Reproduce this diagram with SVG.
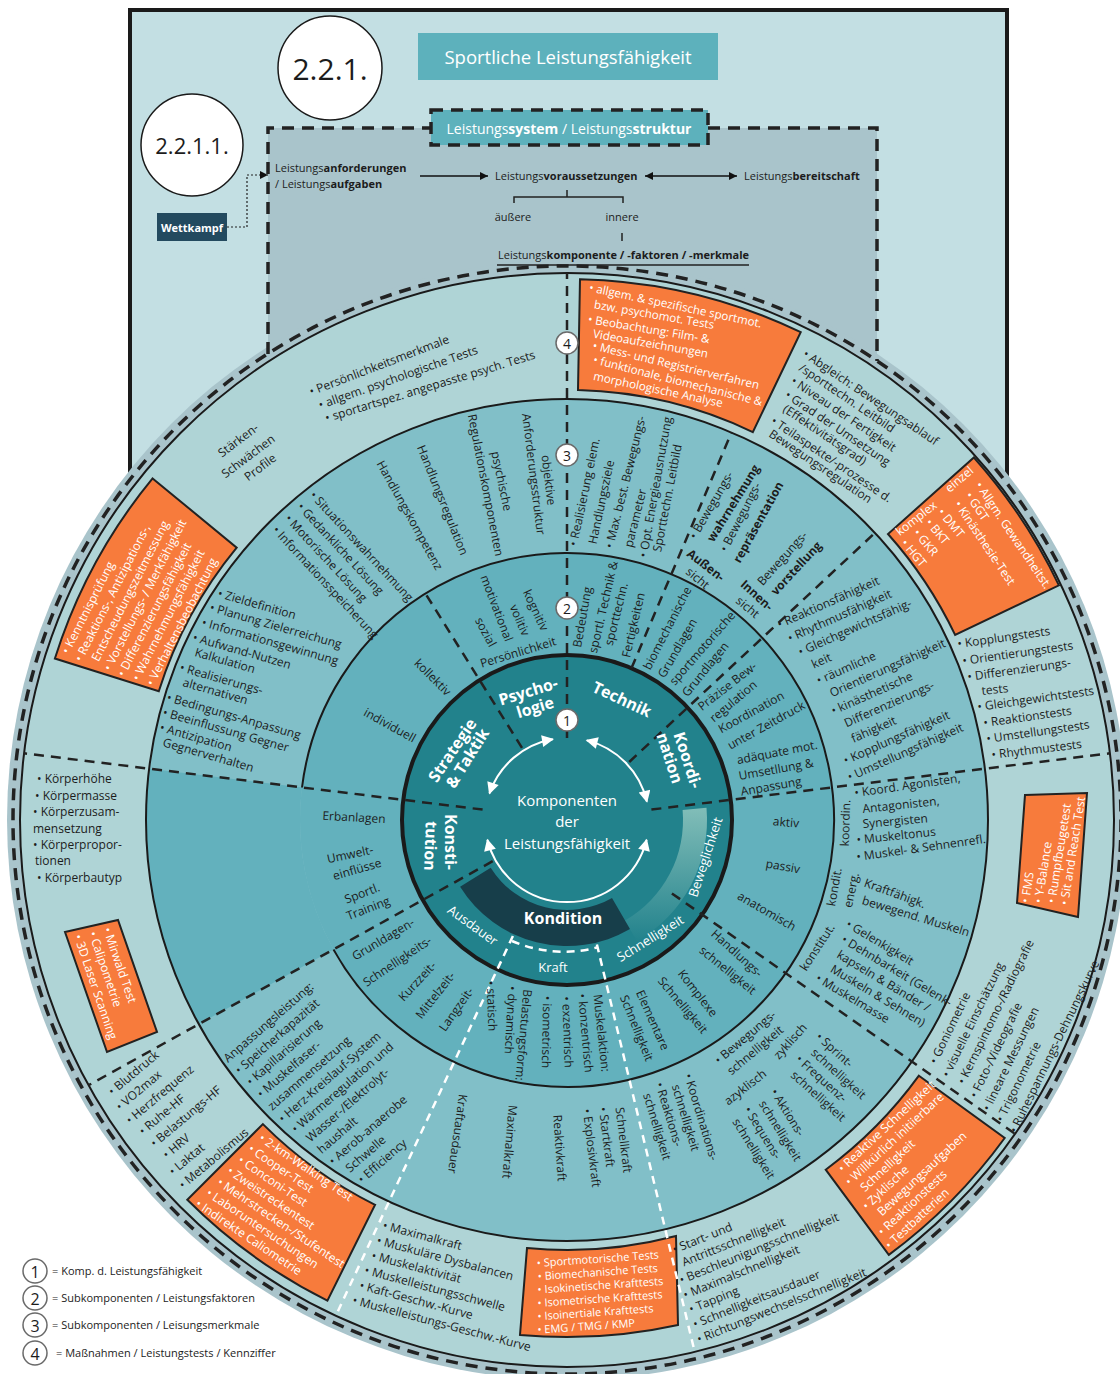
<svg xmlns="http://www.w3.org/2000/svg" width="1120" height="1374" viewBox="0 0 1120 1374">
<defs>
<style>
text{font-family:"Open Sans","Noto Sans","Liberation Sans",sans-serif;font-size:12px;fill:#1c1c1c}
.c{text-anchor:middle;dominant-baseline:central}
.w{fill:#fff}
.b{font-weight:700}
.h{font-size:11px}
.s11{font-size:11px}
.ob{font-size:11.6px}
.r1{font-size:16px;font-weight:700;fill:#fff}
.sb{font-size:13px;fill:#fff}
.dl{fill:none;stroke:#222;stroke-width:2.5;stroke-dasharray:10 7}
.dw{fill:none;stroke:#fff;stroke-width:2.5;stroke-dasharray:8 6}
.dr{fill:none;stroke:#222;stroke-width:3.5;stroke-dasharray:12 8}
.or{fill:#f77b3c;stroke:#222;stroke-width:2}
.num{fill:#fff;stroke:#6a6a6a;stroke-width:1.5}
.ln{fill:none;stroke:#222;stroke-width:1.5}
</style>
<marker id="ah" viewBox="0 0 10 10" refX="10" refY="5" markerWidth="10" markerHeight="8" markerUnits="userSpaceOnUse" orient="auto-start-reverse"><path d="M0,0L10,5L0,10z" fill="#111"/></marker>
<marker id="wa" viewBox="0 0 10 10" refX="9" refY="5" markerWidth="14" markerHeight="12" markerUnits="userSpaceOnUse" orient="auto-start-reverse"><path d="M0,0L10,5L0,10z" fill="#fff"/></marker>
<linearGradient id="comet" x1="0" y1="0" x2="0" y2="1"><stop offset="0" stop-color="#8cc4bd" stop-opacity="0.9"/><stop offset="1" stop-color="#8cc4bd" stop-opacity="0"/></linearGradient>
</defs>

<!-- outer frame and the dashed system area -->
<g id="frame">
<rect x="130" y="10" width="877" height="470" fill="#c3dfe3"/>
<path d="M130,478 V10 H1007 V478" fill="none" stroke="#1a1a1a" stroke-width="4"/>
<path d="M268,362 V128 H877 V362 Z" fill="#a9c4cb"/>
<circle cx="567" cy="820" r="560" fill="#a9c4cb"/>
<path class="dr" d="M268,354 V128 H431 M708,128 H877 V361"/>
<circle class="dr" cx="567" cy="820" r="554"/>
</g>

<!-- headline elements -->
<g id="head-221">
<circle cx="330" cy="68" r="52" fill="#fff" stroke="#1a1a1a" stroke-width="1.5"/>
<text class="c" x="330" y="68" style="font-size:30px">2.2.1.</text>
</g>
<g id="head-2211">
<circle cx="192" cy="145" r="51" fill="#fff" stroke="#1a1a1a" stroke-width="1.5"/>
<text class="c" x="192" y="145" style="font-size:22px">2.2.1.1.</text>
</g>
<g id="title">
<rect x="418" y="33" width="300" height="47" fill="#5db1bc"/>
<text class="c w" x="568" y="56" style="font-size:18.5px">Sportliche Leistungsfähigkeit</text>
</g>
<g id="system-box">
<rect x="431" y="110" width="277" height="35" fill="#5db1bc"/>
<rect class="dr" x="431" y="110" width="277" height="35"/>
<text class="c w" x="569" y="128" style="font-size:14px">Leistungs<tspan class="b">system</tspan> /  Leistungs<tspan class="b">struktur</tspan></text>
</g>
<g id="anforderungen">
<text class="h" x="275" y="172">Leistungs<tspan class="b">anforderungen</tspan></text>
<text class="h" x="275" y="188">/ Leistungs<tspan class="b">aufgaben</tspan></text>
</g>
<g id="voraussetzungen">
<text class="h" x="495" y="180">Leistungs<tspan class="b">voraussetzungen</tspan></text>
<text class="h c" x="513" y="216">äußere</text>
<text class="h c" x="622" y="216">innere</text>
</g>
<g id="bereitschaft">
<text class="h" x="744" y="180">Leistungs<tspan class="b">bereitschaft</tspan></text>
</g>
<g id="komponente">
<text class="h" x="498" y="259">Leistungs<tspan class="b">komponente / -faktoren / -merkmale</tspan></text>
<path class="ln" d="M497,265 H749"/>
</g>
<g id="wettkampf">
<rect x="157" y="213" width="70" height="28" fill="#234a5f"/>
<text class="c w b h" x="192" y="227">Wettkampf</text>
</g>

<!-- rings of the wheel -->
<g id="wheel">
<circle cx="567" cy="820" r="547" fill="#afd4d6" stroke="#1a1a1a" stroke-width="2"/>
<circle cx="567" cy="820" r="421" fill="#81bfc8"/>
<path d="M333.5,949.4 L198.8,1024.1 A421 421 0 0 1 149.2,768.7 L302,787.5 A267 267 0 0 0 333.5,949.4 Z" fill="#63b1bd"/>
<circle cx="567" cy="820" r="267" fill="#63b1bd"/>
<circle cx="567" cy="820" r="421" fill="none" stroke="#1a1a1a" stroke-width="2"/>
<path d="M302,787.5 A267 267 0 1 1 333.5,949.4" fill="none" stroke="#1a1a1a" stroke-width="2"/>
<circle cx="567" cy="820" r="165" fill="#22828c" stroke="#1a1a1a" stroke-width="4"/>
<path d="M630,929.1 A126 126 0 0 1 460.1,886.8 L490.7,867.7 A90 90 0 0 0 612,897.9 Z" fill="#173e4a"/>
<path d="M706.5,807.8 A140 140 0 0 1 637,941.2 L625,920.5 A116 116 0 0 0 682.6,809.9 Z" fill="url(#comet)"/>
</g>

<!-- measurement boxes -->
<g id="box-technik"><path class="or" d="M580,279.2 A541,541 0 0 1 800.7,332.1 L752.8,432.1 A430,430 0 0 0 578,390.1 Z"/>
<text class="w ob c" transform="translate(675.5 305) rotate(11.9)">• allgem. &amp; spezifische sportmot.</text>
<text class="w ob c" transform="translate(654.2 314.2) rotate(9.8)">bzw. psychomot. Tests</text>
<text class="w ob c" transform="translate(648.8 328.7) rotate(9.45)">• Beobachtung: Film- &amp;</text>
<text class="w ob c" transform="translate(650.7 343.1) rotate(9.95)">Videoaufzeichnungen</text>
<text class="w ob c" transform="translate(676.1 364.9) rotate(13.5)">• Mess- und Registrierverfahren</text>
<text class="w ob c" transform="translate(678 380.2) rotate(14.2)">• funktionale, biomechanische &amp;</text>
<text class="w ob c" transform="translate(658.2 389.1) rotate(11.95)">morphologische Analyse</text>
</g>
<g id="box-strategie"><path class="or" d="M152.6,478.4 L236.7,547.7 A428 428 0 0 0 158.8,691.3 L54.9,658.5 A537 537 0 0 1 152.6,478.4 Z"/>
<text class="w" transform="translate(68.6 654.8) rotate(-63)"><tspan x="0" y="0">• Kenntnisprüfung</tspan><tspan x="-1" y="15">• Reaktions-, Antizipations-,</tspan><tspan x="7" y="30">Entscheudungszeitmessung</tspan><tspan x="4" y="45">• Vorstellungs- / Merkfähigkeit</tspan><tspan x="5" y="60">• Differenzierungsfähigkeit</tspan><tspan x="8" y="75">• Wahrnehmungsfähigkeit</tspan><tspan x="10" y="90">• Verhaltensbeobachtung</tspan></text>
</g>
<g id="box-koordination"><path class="or" d="M973.9,457.5 A545 545 0 0 1 1058.9,585.4 L955.1,634.9 A430 430 0 0 0 888,534 Z"/>
<text class="w c" transform="translate(959 479) rotate(-40)">einzel</text>
<text class="w c" transform="translate(916 518) rotate(-38)">komplex</text>
<text class="w" transform="translate(974.7 485.2) rotate(56)"><tspan x="0" y="0">• Allgm. Gewandheitst.</tspan><tspan x="3" y="14">• GGT</tspan><tspan x="4" y="28">• Kinästhesie-Test</tspan></text>
<text class="w" transform="translate(937 512.6) rotate(50)"><tspan x="0" y="0">• DMT</tspan><tspan x="0" y="16">• BKT</tspan><tspan x="0" y="32">• GKR</tspan><tspan x="0" y="48">• HGT</tspan></text>
</g>
<g id="box-konstitution"><path class="or" d="M65,932 L118,920 L157,1032 L107,1052 Z"/>
<text class="w" transform="translate(103 929) rotate(71)"><tspan x="0" y="0">• Mirwald Test</tspan><tspan x="-1" y="15">• Calipometrie</tspan><tspan x="-3" y="30">• 3D Laser Scanning</tspan></text>
</g>
<g id="box-ausdauer"><path class="or" d="M262.9,1124.1 A430 430 0 0 0 375.1,1204.8 L327.4,1300.6 A537 537 0 0 1 187.3,1199.7 Z"/>
<text class="w" transform="translate(258 1140) rotate(34)"><tspan x="0" y="0">• 2-km-Walking Test</tspan><tspan x="-3" y="15">• Cooper-Test</tspan><tspan x="-5" y="30">• Conconi-Test</tspan><tspan x="-8" y="45">• Zweistreckentest</tspan><tspan x="-10" y="60">• Mehrstrecken-/Stufentest</tspan><tspan x="-13" y="75">• Laboruntersuchungen</tspan><tspan x="-16" y="90">• Indirekte Caliometrie</tspan></text>
</g>
<g id="box-kraft"><path class="or" d="M527,1248.1 A430 430 0 0 0 676,1236 L678,1324.9 A517 517 0 0 1 520,1334.9 Z"/>
<text class="w s11" transform="translate(537 1267) rotate(-4)"><tspan x="0" y="0">• Sportmotorische Tests</tspan><tspan x="0" y="13.3">• Biomechanische Tests</tspan><tspan x="-1" y="26.6">• Isokinetische Krafttests</tspan><tspan x="-2" y="39.9">• Isometrische Krafttests</tspan><tspan x="-3" y="53.2">• Isoinertiale Krafttests</tspan><tspan x="-4" y="66.5">• EMG / TMG / KMP</tspan></text>
</g>
<g id="box-schnelligkeit"><path class="or" d="M918.9,1075.7 L1004.7,1138 A541 541 0 0 1 888.8,1254.9 L825.7,1169.7 A435 435 0 0 0 918.9,1075.7 Z"/>
<text class="w" transform="translate(842.7 1172.9) rotate(-43)"><tspan x="0" y="0">• Reaktive Schnelligkeit</tspan><tspan x="-4" y="14.7">• Willkürlich initiierbare</tspan><tspan x="3" y="29.4">Schnelligkeit</tspan><tspan x="-8" y="44.1">• Zyklische</tspan><tspan x="-1" y="58.8">Bewegungsaufgaben</tspan><tspan x="-14" y="73.5">• Reaktionstests</tspan><tspan x="-18" y="88.2">• Testbatterien</tspan></text>
</g>
<g id="box-beweglichkeit"><path class="or" d="M1025,795 L1087,793 L1078,917 L1017,903 Z"/>
<text class="w" transform="translate(1029 903.6) rotate(-81)"><tspan x="0" y="0">• FMS</tspan><tspan x="2" y="13">• Y-Balance</tspan><tspan x="4" y="26">• Rumpfbeugetest</tspan><tspan x="4" y="39">• Sit and Reach Test</tspan></text>
</g>

<!-- connectors: radial section borders, arrows and the Wettkampf link -->
<g id="connectors">
<path class="dl" d="M567,738 V273"/>
<path class="dl" d="M522,747.9 L425.5,593.6"/>
<path class="dl" d="M482.6,809.6 L24.1,753.3"/>
<path class="dl" d="M492.7,861.2 L88.6,1085.2"/>
<path class="dl" d="M651.4,809.6 L1109.9,753.3"/>
<path class="dl" d="M629.2,762 L874.9,532.9"/>
<path class="dl" d="M631.5,668.1 L731.5,432.5"/>
<path class="dl" d="M671.9,893.4 L1015.1,1133.8"/>
<path class="dw" d="M596.9,944.5 L694.7,1351.9"/>
<path class="dw" d="M512.9,936 L335.8,1315.7"/>
<path class="dw" d="M512,941 A131 131 0 0 0 597,947.5"/>
<path d="M489.5,793.3 A82 82 0 0 1 552.8,739.2" fill="none" stroke="#fff" stroke-width="2" marker-start="url(#wa)" marker-end="url(#wa)"/>
<path d="M586.8,740.4 A82 82 0 0 1 646.9,801.6" fill="none" stroke="#fff" stroke-width="2" marker-start="url(#wa)" marker-end="url(#wa)"/>
<path d="M646.6,839.8 A82 82 0 0 1 487.4,839.8" fill="none" stroke="#fff" stroke-width="2" marker-start="url(#wa)" marker-end="url(#wa)"/>
<path d="M420,176 H488" stroke="#111" stroke-width="1.5" marker-end="url(#ah)"/>
<path d="M645,176 H737" stroke="#111" stroke-width="1.5" marker-start="url(#ah)" marker-end="url(#ah)"/>
<path class="ln" d="M567,190 V197 M514,203 V197 H623 V203 M622,233 V241"/>
<path d="M227,227 H247 V175 H268" fill="none" stroke="#222" stroke-width="1.2" stroke-dasharray="2 2" marker-end="url(#ah)"/>
</g>

<!-- centre -->
<g id="centre">
<text class="c w" x="567" y="800" style="font-size:15px">Komponenten</text>
<text class="c w" x="567" y="821" style="font-size:15px">der</text>
<text class="c w" x="567" y="843" style="font-size:15px">Leistungsfähigkeit</text>
</g>

<!-- level 1 components -->
<g id="ring1">
<text class="c r1" transform="translate(528 691) rotate(-17)">Psycho-</text>
<text class="c r1" transform="translate(535 707) rotate(-17)">logie</text>
<text class="c r1" transform="translate(622 699) rotate(25)">Technik</text>
<text class="c r1" transform="translate(688 760) rotate(72)">Koordi-</text>
<text class="c r1" transform="translate(670 758) rotate(72)">nation</text>
<text class="c r1" transform="translate(452 750) rotate(-56)">Strategie</text>
<text class="c r1" transform="translate(467 758) rotate(-58)">&amp; Taktik</text>
<text class="c r1" transform="translate(451 842) rotate(90)">Konsti-</text>
<text class="c r1" transform="translate(431 846) rotate(92)">tution</text>
<text class="c r1" x="563" y="918">Kondition</text>
<text class="c sb" transform="translate(473 925) rotate(36)">Ausdauer</text>
<text class="c sb" x="553" y="967">Kraft</text>
<text class="c sb" transform="translate(650 938) rotate(-32)">Schnelligkeit</text>
<text class="c sb" transform="translate(705 857) rotate(-72)">Beweglichkeit</text>
</g>

<!-- level 2 factors -->
<g id="ring2">
<text class="c" transform="translate(536 610) rotate(65)">kognitiv</text>
<text class="c" transform="translate(520 620) rotate(67)">volitiv</text>
<text class="c" transform="translate(497 608) rotate(69)">motivational</text>
<text class="c" transform="translate(486 632) rotate(62)">sozial</text>
<text class="c" transform="translate(518 652) rotate(-17)">Persönlichkeit</text>
<text class="c" transform="translate(433 677) rotate(45)">kollektiv</text>
<text class="c" transform="translate(390 725) rotate(29)">individuell</text>
<text class="c" transform="translate(354 817) rotate(3)">Erbanlagen</text>
<text class="c" transform="translate(350 854) rotate(-12)">Umwelt-</text>
<text class="c" transform="translate(357 869) rotate(-16)">einflüsse</text>
<text class="c" transform="translate(362 893) rotate(-21)">Sportl.</text>
<text class="c" transform="translate(368 908) rotate(-21)">Training</text>
<text class="c" transform="translate(383 939) rotate(-31)">Grunldagen-</text>
<text class="c" transform="translate(397 961) rotate(-34)">Schnelligkeits-</text>
<text class="c" transform="translate(417 981) rotate(-47)">Kurzzeit-</text>
<text class="c" transform="translate(435 995) rotate(-52)">Mittelzeit-</text>
<text class="c" transform="translate(456 1009) rotate(-55)">Langzeit-</text>
<text class="c" transform="translate(492 1006) rotate(88)">• statisch</text>
<text class="c" transform="translate(511 1020) rotate(93)">• dynamisch</text>
<text class="c" transform="translate(524 1035) rotate(95)">Belastungsform:</text>
<text class="c" transform="translate(547 1032) rotate(91)">• isometrisch</text>
<text class="c" transform="translate(568 1032) rotate(88)">• exzentrisch</text>
<text class="c" transform="translate(586 1033) rotate(85)">• konzentrisch</text>
<text class="c" transform="translate(602 1033) rotate(84)">Muskelaktion:</text>
<text class="c" transform="translate(653 1020) rotate(66)">Elementare</text>
<text class="c" transform="translate(637 1028) rotate(68)">Schnelligkeit</text>
<text class="c" transform="translate(698 993) rotate(52)">Komplexe</text>
<text class="c" transform="translate(683 1005) rotate(50)">Schnelligkeit</text>
<text class="c" transform="translate(737 953) rotate(42)">Handlungs-</text>
<text class="c" transform="translate(728 970) rotate(39)">schnelligkeit</text>
<text class="c" transform="translate(786 822) rotate(5)">aktiv</text>
<text class="c" transform="translate(783 866) rotate(10)">passiv</text>
<text class="c" transform="translate(767 911) rotate(30)">anatomisch</text>
<text class="c" transform="translate(727 686) rotate(-38)">Präzise Bew-</text>
<text class="c" transform="translate(733 701) rotate(-40)">regulation</text>
<text class="c" transform="translate(751 712) rotate(-29)">Koordination</text>
<text class="c" transform="translate(766 725) rotate(-29)">unter Zeitdruck</text>
<text class="c" transform="translate(777 752) rotate(-11)">adäquate mot.</text>
<text class="c" transform="translate(776 769) rotate(-10)">Umsetllung &amp;</text>
<text class="c" transform="translate(771 786) rotate(-10)">Anpassung</text>
<text class="c" transform="translate(582 617) rotate(-80)">Bedeutung</text>
<text class="c" transform="translate(603 607) rotate(-77)">sportl. Technik &amp;</text>
<text class="c" transform="translate(616 614) rotate(-76)">sporttechn.</text>
<text class="c" transform="translate(633 625) rotate(-77)">Fertigkeiten</text>
<text class="c" transform="translate(667 628) rotate(-63)">biomechanische</text>
<text class="c" transform="translate(677 648) rotate(-60)">Grundlagen</text>
<text class="c" transform="translate(702 648) rotate(-49)">sportmotorische</text>
<text class="c" transform="translate(705 669) rotate(-51)">Grundlagen</text>
</g>

<!-- level 3 features -->
<g id="ring3">
<text class="c" transform="translate(549 480) rotate(83)">objektive</text>
<text class="c" transform="translate(534 474) rotate(83)">Anforderungsstruktur</text>
<text class="c" transform="translate(502 481) rotate(78)">psychische</text>
<text class="c" transform="translate(486 485) rotate(79)">Regulationskomponenten</text>
<text class="c" transform="translate(443 500) rotate(68)">Handlungsregulation</text>
<text class="c" transform="translate(410 515) rotate(61)">Handlungskompetenz</text>
<text transform="translate(309 496) rotate(47)"><tspan x="0" y="0">• Situationswahrnehmung</tspan><tspan x="0" y="17">• Gedankliche Lösung</tspan><tspan x="0" y="34">• Motorische Lösung</tspan><tspan x="0" y="51">• Informationsspeicherung</tspan></text>
<text transform="translate(217 597) rotate(16)">• Zieldefinition</text>
<text transform="translate(209 611) rotate(16)">• Planung Zielerreichung</text>
<text transform="translate(201 626) rotate(16)">• Informationsgewinnung</text>
<text transform="translate(192 641) rotate(16)">• Aufwand-Nutzen</text>
<text transform="translate(194 656) rotate(16)">Kalkulation</text>
<text transform="translate(179 671) rotate(16)">• Realisierungs-</text>
<text transform="translate(182 686) rotate(16)">alternativen</text>
<text transform="translate(166 701) rotate(16)">• Bedingungs-Anpassung</text>
<text transform="translate(162 716) rotate(16)">• Beeinflussung Gegner</text>
<text transform="translate(159 731) rotate(16)">• Antizipation</text>
<text transform="translate(162 746) rotate(16)">Gegnerverhalten</text>
<text transform="translate(228 1063) rotate(-41)"><tspan x="0" y="0">Anpassungsleistung:</tspan><tspan x="1" y="16.3">• Speicherkapazität</tspan><tspan x="2" y="32.6">• Kapillarisierung</tspan><tspan x="2" y="48.9">• Muskelfaser-</tspan><tspan x="2" y="65.2">zusammensetzung</tspan><tspan x="2" y="81.5">• Herz-Kreislauf-System</tspan><tspan x="5" y="97.8">• Wärmeregulation und</tspan><tspan x="10" y="114.1">Wasser-/Elektrolyt-</tspan><tspan x="11" y="130.4">haushalt</tspan><tspan x="12" y="146.7">• Aerob-anaerobe</tspan><tspan x="20" y="163">Schwelle</tspan><tspan x="22" y="179.3">• Efficiency</tspan></text>
<text class="c" transform="translate(458 1134) rotate(98)">Kraftausdauer</text>
<text class="c" transform="translate(510 1142) rotate(95)">Maximalkraft</text>
<text class="c" transform="translate(560 1148) rotate(86)">Reaktivkraft</text>
<text class="c" transform="translate(592 1148) rotate(83)">• Explosivkraft</text>
<text class="c" transform="translate(607 1137) rotate(83)">• Startkraft</text>
<text class="c" transform="translate(624 1140) rotate(83)">Schnellkraft</text>
<text transform="translate(684 1075) rotate(73)"><tspan x="0" y="0">• Koordinations-</tspan><tspan x="7" y="15">schnelligkeit</tspan><tspan x="0" y="30">• Reaktions-</tspan><tspan x="7" y="45">schnelligkeit</tspan></text>
<text class="c" transform="translate(745 1037) rotate(-40)">• Bewegungs-</text>
<text class="c" transform="translate(755 1050) rotate(-40)">schnelligkeit</text>
<text class="c" transform="translate(790 1041) rotate(-48)">zyklisch</text>
<text class="c" transform="translate(745 1087) rotate(-38)">azyklisch</text>
<text transform="translate(815 1038) rotate(42)"><tspan x="0" y="0">• Sprint-</tspan><tspan x="7" y="15">schnelligkeit</tspan><tspan x="0" y="30">• Frequenz-</tspan><tspan x="7" y="45">schnelligkeit</tspan></text>
<text transform="translate(770 1092) rotate(58)"><tspan x="0" y="0">• Aktions-</tspan><tspan x="4" y="16">schnelligkeit</tspan><tspan x="1" y="32">• Sequens-</tspan><tspan x="5" y="48">schnelligkeit</tspan></text>
<text class="c" transform="translate(845 823) rotate(-88)">koordin.</text>
<text transform="translate(855 797) rotate(-8)">• Koord. Agonisten,</text>
<text transform="translate(863 813) rotate(-6)">Antagonisten,</text>
<text transform="translate(863 828) rotate(-5)">Synergisten</text>
<text transform="translate(857 844) rotate(-6)">• Muskeltonus</text>
<text transform="translate(857 861) rotate(-8)">• Muskel- &amp; Sehnenrefl.</text>
<text class="c" transform="translate(834 887) rotate(-80)">kondit.</text>
<text class="c" transform="translate(851 890) rotate(-78)">energ.</text>
<text class="c" transform="translate(895 893) rotate(20)">Kraftfähigk.</text>
<text class="c" transform="translate(916 916) rotate(17)">bewegend. Muskeln</text>
<text class="c" transform="translate(817 947) rotate(-57)">konstitut.</text>
<text transform="translate(845 926.4) rotate(31)"><tspan x="0" y="0">• Gelenkigkeit</tspan><tspan x="4" y="15.5">• Dehnbarkeit (Gelenk-</tspan><tspan x="8" y="31">kapseln &amp; Bänder /</tspan><tspan x="10" y="46.5">Muskeln &amp; Sehnen)</tspan><tspan x="2" y="62">• Muskelmasse</tspan></text>
<text transform="translate(779.6 628.7) rotate(-24)"><tspan x="0" y="0">• Reaktionsfähigkeit</tspan><tspan x="4" y="16.8">• Rhythmusfähigkeit</tspan><tspan x="8" y="33.6">• Gleichgewichtsfähig-</tspan><tspan x="15" y="50.4">keit</tspan><tspan x="13" y="67.2">• räumliche</tspan><tspan x="20" y="84">Orientierungsfähigkeit</tspan><tspan x="14" y="100.8">• kinästhetische</tspan><tspan x="21" y="117.6">Differenzierungs-</tspan><tspan x="21" y="134.4">fähigkeit</tspan><tspan x="5" y="151.2">• Kopplungsfähigkeit</tspan><tspan x="2" y="168">• Umstellungsfähigkeit</tspan></text>
<text class="c" transform="translate(584 492) rotate(-78)">• Realisierung elem.</text>
<text class="c" transform="translate(601 502) rotate(-78)">Handlungsziele</text>
<text class="c" transform="translate(625 482) rotate(-76)">• Max. best. Bewegungs-</text>
<text class="c" transform="translate(635 518) rotate(-76)">parameter</text>
<text class="c" transform="translate(655 487) rotate(-80)">• Opt. Energieausnutzung</text>
<text class="c" transform="translate(667 498) rotate(-79)">Sporttechn. Leitbild</text>
<text class="c" transform="translate(711 505) rotate(-60)">• Bewegungs-</text>
<text class="c b" transform="translate(733 503) rotate(-58)">wahrnehmung</text>
<text class="c" transform="translate(740 517) rotate(-63)">• Bewegungs-</text>
<text class="c b" transform="translate(758 522) rotate(-61)">repräsentation</text>
<text class="c b" transform="translate(706 565) rotate(38)">Außen-</text>
<text class="c" transform="translate(698 578) rotate(40)">sicht</text>
<text class="c b" transform="translate(757 595) rotate(42)">Innen-</text>
<text class="c" transform="translate(748 607) rotate(40)">sicht</text>
<text class="c" transform="translate(782 558) rotate(-48)">Bewegungs-</text>
<text class="c b" transform="translate(796 568) rotate(-47)">vorstellung</text>
</g>

<!-- level 4 measures -->
<g id="ring4">
<text class="c" transform="translate(379 365) rotate(-21)">• Persönlichkeitsmerkmale</text>
<text class="c" transform="translate(398 377) rotate(-19.5)">• allgem. psychologische Tests</text>
<text class="c" transform="translate(430 386) rotate(-17)">• sportartspez. angepasste psych. Tests</text>
<text class="c" transform="translate(238 440) rotate(-37)">Stärken-</text>
<text class="c" transform="translate(248 456) rotate(-37)">Schwächen</text>
<text class="c" transform="translate(260 467) rotate(-37)">Profile</text>
<text x="37" y="783">• Körperhöhe</text>
<text x="35" y="800">• Körpermasse</text>
<text x="33" y="816">• Körperzusam-</text>
<text x="33" y="833">mensetzung</text>
<text x="33" y="849">• Körperpropor-</text>
<text x="35" y="865">tionen</text>
<text x="37" y="882">• Körperbautyp</text>
<text transform="translate(112.6 1096) rotate(-40)"><tspan x="0" y="0">• Blutdruck</tspan><tspan x="-4" y="16.7">• VO2max</tspan><tspan x="-5" y="33.4">• Herzfrequenz</tspan><tspan x="-2" y="50.1">• Ruhe-HF</tspan><tspan x="-1" y="66.8">• Belastungs-HF</tspan><tspan x="1" y="83.5">• HRV</tspan><tspan x="-5" y="100.2">• Laktat</tspan><tspan x="-6" y="116.9">• Metabolismus</tspan></text>
<text transform="translate(382 1229) rotate(15)"><tspan x="0" y="0">• Maximalkraft</tspan><tspan x="-2" y="16">• Muskuläre Dysbalancen</tspan><tspan x="-3" y="32">• Muskelaktivität</tspan><tspan x="-6" y="48">• Muskelleistungsschwelle</tspan><tspan x="-7" y="64">• Kaft-Geschw.-Kurve</tspan><tspan x="-10" y="80">• Muskelleistungs-Geschw.-Kurve</tspan></text>
<text transform="translate(674.5 1253.7) rotate(-22)"><tspan x="0" y="0">• Start- und</tspan><tspan x="4" y="15.4">Antrittsschnelligkeit</tspan><tspan x="-5" y="30.8">• Beschleunigungsschnelligkeit</tspan><tspan x="-7" y="46.2">• Maximalschnelligkeit</tspan><tspan x="-7" y="61.6">• Tapping</tspan><tspan x="-9" y="77">• Schnelligkeitsausdauer</tspan><tspan x="-11" y="92.4">• Richtungswechselsschnelligkeit</tspan></text>
<text transform="translate(936.6 1064.8) rotate(-64)"><tspan x="0" y="0">• Goniometrie</tspan><tspan x="-6.5" y="17">• visuelle Einschätzung</tspan><tspan x="-6" y="34">• Kernspintomo-/Radiografie</tspan><tspan x="-13" y="51">• Foto-/Videografie</tspan><tspan x="-19" y="68">• lineare Messungen</tspan><tspan x="-23" y="85">• Trigonometrie</tspan><tspan x="-27" y="102">• Ruhespannungs-Dehnungskurve</tspan></text>
<text transform="translate(958 648) rotate(-8)">• Kopplungstests</text>
<text transform="translate(963 665) rotate(-8)">• Orientierungstests</text>
<text transform="translate(968 681) rotate(-8)">• Differenzierungs-</text>
<text transform="translate(982 695) rotate(-6)">tests</text>
<text transform="translate(978 711) rotate(-8)">• Gleichgewichtstests</text>
<text transform="translate(984 727) rotate(-8)">• Reaktionstests</text>
<text transform="translate(987 743) rotate(-8)">• Umstellungstests</text>
<text transform="translate(992 759) rotate(-7)">• Rhythmustests</text>
<text transform="translate(802 356) rotate(34)">• Abgleich: Bewegungsablauf</text>
<text transform="translate(798 370) rotate(34)">/sporttechn. Leitbild</text>
<text transform="translate(790 383) rotate(34)">• Niveau der Fertigkeit</text>
<text transform="translate(784 397) rotate(34)">• Grad der Umsetzung</text>
<text transform="translate(782 411) rotate(34)">(Effektivitätsgrad)</text>
<text transform="translate(770 423) rotate(34)">• Teilaspekte/-prozesse d.</text>
<text transform="translate(768 436) rotate(34)">Bewegungsregulation</text>
</g>

<!-- level markers on the vertical axis -->
<g id="markers">
<circle class="num" cx="567" cy="343" r="11"/><text class="c" x="567" y="343" style="font-size:14px">4</text>
<circle class="num" cx="567" cy="455" r="11"/><text class="c" x="567" y="455" style="font-size:14px">3</text>
<circle class="num" cx="567" cy="608" r="11"/><text class="c" x="567" y="608" style="font-size:14px">2</text>
<circle class="num" cx="567" cy="720" r="11"/><text class="c" x="567" y="720" style="font-size:14px">1</text>
</g>

<!-- legend -->
<g id="legend">
<circle class="num" cx="35" cy="1271" r="12"/><text class="c" x="35" y="1272" style="font-size:16px">1</text>
<circle class="num" cx="35" cy="1298" r="12"/><text class="c" x="35" y="1299" style="font-size:16px">2</text>
<circle class="num" cx="35" cy="1325" r="12"/><text class="c" x="35" y="1326" style="font-size:16px">3</text>
<circle class="num" cx="35" cy="1353" r="12"/><text class="c" x="35" y="1354" style="font-size:16px">4</text>
<text class="h" x="52" y="1275">= Komp. d. Leistungsfähigkeit</text>
<text class="h" x="52" y="1302">= Subkomponenten / Leistungsfaktoren</text>
<text class="h" x="52" y="1329">= Subkomponenten / Leisungsmerkmale</text>
<text class="h" x="56" y="1357">= Maßnahmen / Leistungstests / Kennziffer</text>
</g>
</svg>
